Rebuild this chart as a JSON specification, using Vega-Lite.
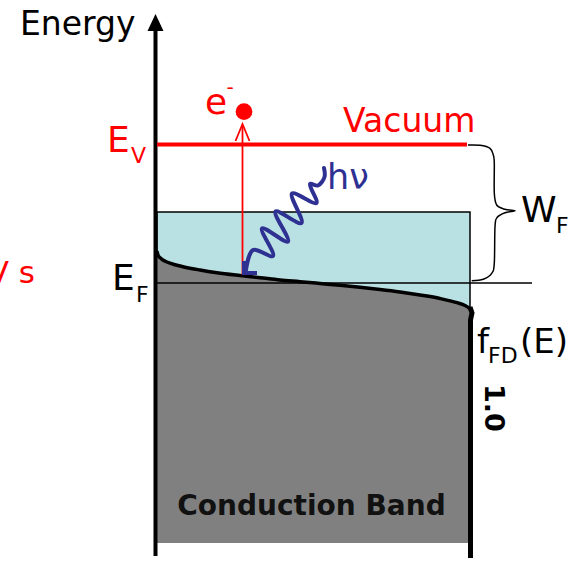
{
"$schema": "https://vega.github.io/schema/vega-lite/v6.json",
"width": 580, "height": 561, "autosize": {"type": "none"}, "padding": 0,
"background": "white",
"config": {"view": {"stroke": null}, "text": {"font": "DejaVu Sans"}},
"datasets": {
"rects": [{"x": 157, "x2": 470, "y": 212, "y2": 310}],
"pts": [{"id": "arrowtip", "x": 155.5, "y": 22.5}, {"id": "electron", "x": 244, "y": 111.7}],
"paths": [
{"seg": "axis", "i": 0, "x": 155.5, "y": 30}, {"seg": "axis", "i": 1, "x": 155.5, "y": 556},
{"seg": "vac", "i": 0, "x": 157, "y": 144.5}, {"seg": "vac", "i": 1, "x": 467, "y": 144.5},
{"seg": "efl", "i": 0, "x": 157, "y": 283}, {"seg": "efl", "i": 1, "x": 532, "y": 283},
{"seg": "redarrow", "i": 0, "x": 242.5, "y": 275}, {"seg": "redarrow", "i": 1, "x": 242.5, "y": 125},
{"seg": "redhead", "i": 0, "x": 235.5, "y": 141}, {"seg": "redhead", "i": 1, "x": 242.5, "y": 124}, {"seg": "redhead", "i": 2, "x": 249.5, "y": 141},
{"seg": "photonhead", "i": 0, "x": 244, "y": 261}, {"seg": "photonhead", "i": 1, "x": 244, "y": 273}, {"seg": "photonhead", "i": 2, "x": 257, "y": 273},
{"seg": "rightedge", "i": 0, "x": 470, "y": 307}, {"seg": "rightedge", "i": 1, "x": 472, "y": 313}, {"seg": "rightedge", "i": 2, "x": 470.5, "y": 320}, {"seg": "rightedge", "i": 3, "x": 470.5, "y": 558},
{"seg": "fermi", "i": 0, "x": 157, "y": 251}, {"seg": "fermi", "i": 1, "x": 158, "y": 255}, {"seg": "fermi", "i": 2, "x": 160, "y": 257.7}, {"seg": "fermi", "i": 3, "x": 163, "y": 260}, {"seg": "fermi", "i": 4, "x": 167, "y": 262}, {"seg": "fermi", "i": 5, "x": 175, "y": 264.7}, {"seg": "fermi", "i": 6, "x": 183, "y": 266.7}, {"seg": "fermi", "i": 7, "x": 200, "y": 270}, {"seg": "fermi", "i": 8, "x": 217, "y": 272.7}, {"seg": "fermi", "i": 9, "x": 240, "y": 275.5}, {"seg": "fermi", "i": 10, "x": 260, "y": 277.7}, {"seg": "fermi", "i": 11, "x": 280, "y": 280}, {"seg": "fermi", "i": 12, "x": 300, "y": 281.7}, {"seg": "fermi", "i": 13, "x": 320, "y": 283.5}, {"seg": "fermi", "i": 14, "x": 340, "y": 285.3}, {"seg": "fermi", "i": 15, "x": 360, "y": 287.3}, {"seg": "fermi", "i": 16, "x": 380, "y": 289.5}, {"seg": "fermi", "i": 17, "x": 400, "y": 292}, {"seg": "fermi", "i": 18, "x": 420, "y": 295}, {"seg": "fermi", "i": 19, "x": 440, "y": 298.5}, {"seg": "fermi", "i": 20, "x": 457, "y": 302.7}, {"seg": "fermi", "i": 21, "x": 465, "y": 305.5}, {"seg": "fermi", "i": 22, "x": 470, "y": 308.5},
{"seg": "brace", "i": 0, "x": 468, "y": 145}, {"seg": "brace", "i": 1, "x": 480, "y": 145.3}, {"seg": "brace", "i": 2, "x": 490, "y": 148.3}, {"seg": "brace", "i": 3, "x": 493.3, "y": 155}, {"seg": "brace", "i": 4, "x": 494.3, "y": 163.3}, {"seg": "brace", "i": 5, "x": 494.3, "y": 193.3}, {"seg": "brace", "i": 6, "x": 496.7, "y": 205}, {"seg": "brace", "i": 7, "x": 505, "y": 209.3}, {"seg": "brace", "i": 8, "x": 515, "y": 210.7}, {"seg": "brace", "i": 9, "x": 505, "y": 212.7}, {"seg": "brace", "i": 10, "x": 497.3, "y": 217.3}, {"seg": "brace", "i": 11, "x": 495, "y": 226.7}, {"seg": "brace", "i": 12, "x": 494.3, "y": 263.3}, {"seg": "brace", "i": 13, "x": 491.7, "y": 273.3}, {"seg": "brace", "i": 14, "x": 483.3, "y": 279.3}, {"seg": "brace", "i": 15, "x": 471.7, "y": 280.7},
{"seg": "photon", "i": 0, "x": 324, "y": 168}, {"seg": "photon", "i": 1, "x": 324.5, "y": 177}, {"seg": "photon", "i": 2, "x": 318, "y": 185.5}, {"seg": "photon", "i": 3, "x": 310, "y": 184}, {"seg": "photon", "i": 4, "x": 316.5, "y": 203}, {"seg": "photon", "i": 5, "x": 292, "y": 193.5}, {"seg": "photon", "i": 6, "x": 301.5, "y": 223}, {"seg": "photon", "i": 7, "x": 275.5, "y": 211.5}, {"seg": "photon", "i": 8, "x": 288, "y": 241.5}, {"seg": "photon", "i": 9, "x": 262, "y": 228.5}, {"seg": "photon", "i": 10, "x": 273, "y": 256}, {"seg": "photon", "i": 11, "x": 253, "y": 250}, {"seg": "photon", "i": 12, "x": 246, "y": 270}
],
"labels": [
{"id": "energy", "t": "Energy", "x": 20, "y": 35},
{"id": "ev", "t": "E", "x": 107, "y": 152},
{"id": "evs", "t": "V", "x": 131, "y": 163},
{"id": "vac", "t": "Vacuum", "x": 343, "y": 132},
{"id": "e", "t": "e", "x": 205, "y": 113.5},
{"id": "minus", "t": "-", "x": 230, "y": 87.5},
{"id": "hv", "t": "hν", "x": 327, "y": 189},
{"id": "ef", "t": "E", "x": 112, "y": 290},
{"id": "efs", "t": "F", "x": 136, "y": 302},
{"id": "wf", "t": "W", "x": 521, "y": 221.5},
{"id": "wfs", "t": "F", "x": 556, "y": 233},
{"id": "f", "t": "f", "x": 477, "y": 353},
{"id": "fds", "t": "FD", "x": 488, "y": 363},
{"id": "pe", "t": "(E)", "x": 520, "y": 353},
{"id": "one", "t": "1.0", "x": 493, "y": 408},
{"id": "cb", "t": "Conduction Band", "x": 311.5, "y": 515},
{"id": "evs2", "t": "eV s", "x": 35, "y": 283}
]
},
"encoding": {
"x": {"field": "x", "type": "quantitative", "scale": {"domain": [0, 580], "nice": false, "zero": false}, "axis": null},
"y": {"field": "y", "type": "quantitative", "scale": {"domain": [0, 561], "nice": false, "zero": false, "reverse": true}, "axis": null}
},
"layer": [
{"data": {"name": "rects"}, "mark": {"type": "rect", "fill": "#b9e0e2", "stroke": "black", "strokeWidth": 1.5},
 "encoding": {"x2": {"field": "x2"}, "y2": {"field": "y2"}}},
{"data": {"name": "paths"}, "transform": [{"filter": "datum.seg == 'fermi'"}],
 "mark": {"type": "area", "color": "#808080", "interpolate": "monotone"},
 "encoding": {"y2": {"datum": 543}}},
{"data": {"name": "paths"}, "transform": [{"filter": "datum.seg == 'efl'"}],
 "mark": {"type": "line", "color": "black", "strokeWidth": 1.5},
 "encoding": {"order": {"field": "i", "type": "quantitative"}}},
{"data": {"name": "paths"}, "transform": [{"filter": "datum.seg == 'fermi'"}],
 "mark": {"type": "line", "color": "black", "strokeWidth": 3.5, "interpolate": "monotone"},
 "encoding": {"order": {"field": "i", "type": "quantitative"}}},
{"data": {"name": "paths"}, "transform": [{"filter": "datum.seg == 'rightedge'"}],
 "mark": {"type": "line", "color": "black", "strokeWidth": 5},
 "encoding": {"order": {"field": "i", "type": "quantitative"}}},
{"data": {"name": "paths"}, "transform": [{"filter": "datum.seg == 'axis'"}],
 "mark": {"type": "line", "color": "black", "strokeWidth": 4},
 "encoding": {"order": {"field": "i", "type": "quantitative"}}},
{"data": {"name": "pts"}, "transform": [{"filter": "datum.id == 'arrowtip'"}],
 "mark": {"type": "point", "shape": "M0,-1L-0.94,1L0.94,1Z", "size": 289, "filled": true, "color": "black", "opacity": 1}},
{"data": {"name": "paths"}, "transform": [{"filter": "datum.seg == 'vac'"}],
 "mark": {"type": "line", "color": "#ff0000", "strokeWidth": 4},
 "encoding": {"order": {"field": "i", "type": "quantitative"}}},
{"data": {"name": "paths"}, "transform": [{"filter": "datum.seg == 'redarrow' || datum.seg == 'redhead'"}],
 "mark": {"type": "line", "color": "#ff0000", "strokeWidth": 1.8},
 "encoding": {"detail": {"field": "seg"}, "order": {"field": "i", "type": "quantitative"}}},
{"data": {"name": "paths"}, "transform": [{"filter": "datum.seg == 'photon'"}],
 "mark": {"type": "line", "color": "#2e3192", "strokeWidth": 4, "interpolate": "catmull-rom", "strokeCap": "round"},
 "encoding": {"order": {"field": "i", "type": "quantitative"}}},
{"data": {"name": "paths"}, "transform": [{"filter": "datum.seg == 'photonhead'"}],
 "mark": {"type": "line", "color": "#2e3192", "strokeWidth": 4},
 "encoding": {"order": {"field": "i", "type": "quantitative"}}},
{"data": {"name": "paths"}, "transform": [{"filter": "datum.seg == 'brace'"}],
 "mark": {"type": "line", "color": "black", "strokeWidth": 1.5, "interpolate": "cardinal"},
 "encoding": {"order": {"field": "i", "type": "quantitative"}}},
{"data": {"name": "pts"}, "transform": [{"filter": "datum.id == 'electron'"}],
 "mark": {"type": "point", "shape": "circle", "size": 280, "filled": true, "color": "#ff0000", "opacity": 1}},
{"data": {"name": "labels"}, "transform": [{"filter": {"field": "id", "oneOf": ["energy"]}}],
 "mark": {"type": "text", "align": "left", "baseline": "alphabetic", "fontSize": 33, "color": "black"},
 "encoding": {"text": {"field": "t"}}},
{"data": {"name": "labels"}, "transform": [{"filter": {"field": "id", "oneOf": ["ev", "e"]}}],
 "mark": {"type": "text", "align": "left", "baseline": "alphabetic", "fontSize": 36, "color": "#ff0000"},
 "encoding": {"text": {"field": "t"}}},
{"data": {"name": "labels"}, "transform": [{"filter": {"field": "id", "oneOf": ["evs"]}}],
 "mark": {"type": "text", "align": "left", "baseline": "alphabetic", "fontSize": 22, "color": "#ff0000"},
 "encoding": {"text": {"field": "t"}}},
{"data": {"name": "labels"}, "transform": [{"filter": {"field": "id", "oneOf": ["vac"]}}],
 "mark": {"type": "text", "align": "left", "baseline": "alphabetic", "fontSize": 33, "color": "#ff0000"},
 "encoding": {"text": {"field": "t"}}},
{"data": {"name": "labels"}, "transform": [{"filter": {"field": "id", "oneOf": ["evs2"]}}],
 "mark": {"type": "text", "align": "right", "baseline": "alphabetic", "fontSize": 31, "color": "#ff0000"},
 "encoding": {"text": {"field": "t"}}},
{"data": {"name": "labels"}, "transform": [{"filter": {"field": "id", "oneOf": ["minus"]}}],
 "mark": {"type": "text", "align": "center", "baseline": "middle", "fontSize": 20, "color": "#ff0000"},
 "encoding": {"text": {"field": "t"}}},
{"data": {"name": "labels"}, "transform": [{"filter": {"field": "id", "oneOf": ["hv"]}}],
 "mark": {"type": "text", "align": "left", "baseline": "alphabetic", "fontSize": 35, "color": "#2e3192"},
 "encoding": {"text": {"field": "t"}}},
{"data": {"name": "labels"}, "transform": [{"filter": {"field": "id", "oneOf": ["ef", "wf"]}}],
 "mark": {"type": "text", "align": "left", "baseline": "alphabetic", "fontSize": 36, "color": "black"},
 "encoding": {"text": {"field": "t"}}},
{"data": {"name": "labels"}, "transform": [{"filter": {"field": "id", "oneOf": ["f", "pe"]}}],
 "mark": {"type": "text", "align": "left", "baseline": "alphabetic", "fontSize": 34, "color": "black"},
 "encoding": {"text": {"field": "t"}}},
{"data": {"name": "labels"}, "transform": [{"filter": {"field": "id", "oneOf": ["efs", "wfs", "fds"]}}],
 "mark": {"type": "text", "align": "left", "baseline": "alphabetic", "fontSize": 22, "color": "black"},
 "encoding": {"text": {"field": "t"}}},
{"data": {"name": "labels"}, "transform": [{"filter": {"field": "id", "oneOf": ["one"]}}],
 "mark": {"type": "text", "align": "center", "baseline": "middle", "fontSize": 27, "fontWeight": "bold", "angle": 90, "color": "black"},
 "encoding": {"text": {"field": "t"}}},
{"data": {"name": "labels"}, "transform": [{"filter": {"field": "id", "oneOf": ["cb"]}}],
 "mark": {"type": "text", "align": "center", "baseline": "alphabetic", "fontSize": 28, "fontWeight": "bold", "color": "#111111"},
 "encoding": {"text": {"field": "t"}}}
]
}
